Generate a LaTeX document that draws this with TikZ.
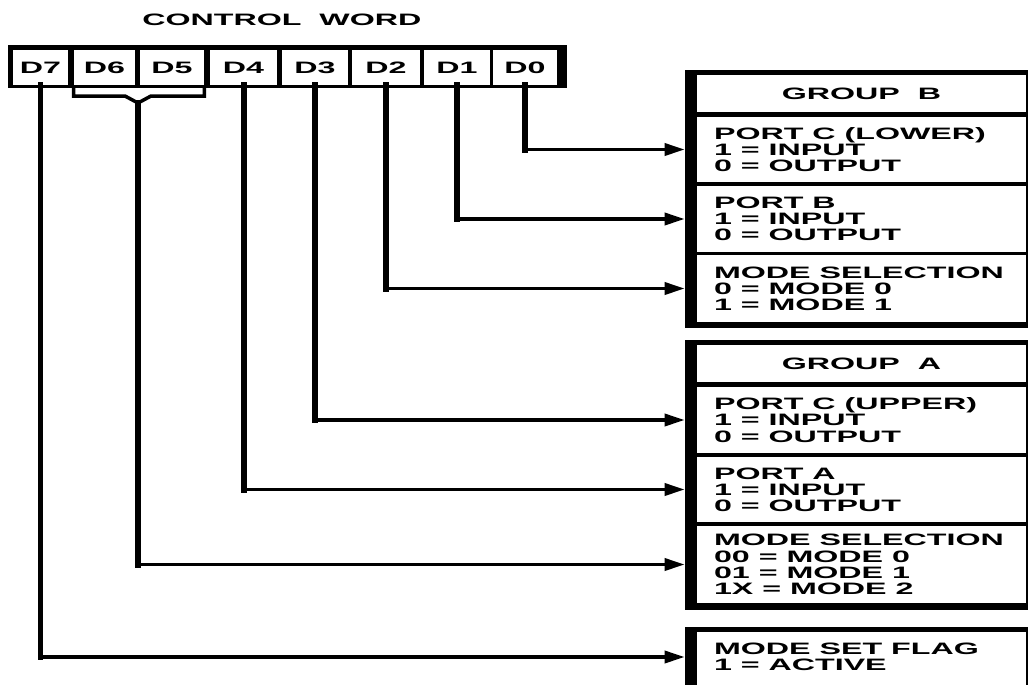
\documentclass[tikz,border=0pt]{standalone}
\usepackage{fontspec}
\newfontfamily\lblfont{Liberation Sans}[FakeStretch=1.95]
\newcommand\lblfnt{\lblfont\bfseries\fontsize{9.4}{9.2}\selectfont\hyphenpenalty=10000}
\usetikzlibrary{arrows.meta}

\begin{document}
\begin{tikzpicture}[
  x=0.02cm, y=-0.02cm,
  cell/.style={fill=white, minimum height=0.7cm, inner sep=0pt, font=\lblfnt},
  sec/.style={fill=white, minimum width=6.58cm, text width=5.9cm, inner xsep=0.34cm,
              inner ysep=0pt, align=left, font=\lblfnt,
              execute at begin node={\spaceskip=0pt\xspaceskip=0pt}},
  hdr/.style={sec, align=center, minimum height=0.74cm},
  vln/.style={line width=0.12cm, line cap=rect},
  hln/.style={line width=0.07cm},
  arr/.style={hln, -{Triangle[length=0.4cm,width=0.24cm]}, shorten >=0.24cm},
]
  \useasboundingbox (0,0) rectangle (1029,684);
  % Control word register
  \node[font=\lblfnt, anchor=west, inner sep=0pt] (title) at (142,19.5) {CONTROL\ \ WORD};
  \fill (8,45) rectangle (567,88);
  \foreach \n/\x/\w in {7/40.5/55, 6/104.5/61, 5/172/64, 4/243.5/67,
                        3/315/66, 2/386/68, 1/457/66, 0/525/64}
    \node[cell, minimum width=\w*0.02cm] (d\n) at (\x,67.5) {D\n};
  % Group B
  \fill (685,70) rectangle (1028,328);
  \node[hdr] (grpb) at (861.5,93.5) {GROUP B};
  \node[sec, minimum height=1.3cm]  (pcl) at (861.5,149.5) {PORT C (LOWER)\\1 = INPUT\\0 = OUTPUT};
  \node[sec, minimum height=1.32cm] (pb)  at (861.5,219)   {PORT B\\1 = INPUT\\0 = OUTPUT};
  \node[sec, minimum height=1.34cm] (msb) at (861.5,288.5) {MODE SELECTION\\0 = MODE 0\\1 = MODE 1};
  % Group A
  \fill (685,340) rectangle (1028,610);
  \node[hdr] (grpa) at (861.5,363.5) {GROUP A};
  \node[sec, minimum height=1.32cm] (pcu) at (861.5,420)   {PORT C (UPPER)\\1 = INPUT\\0 = OUTPUT};
  \node[sec, minimum height=1.3cm]  (pa)  at (861.5,489.5) {PORT A\\1 = INPUT\\0 = OUTPUT};
  \node[sec, minimum height=1.54cm] (msa) at (861.5,564.5) {MODE SELECTION\\00 = MODE 0\\01 = MODE 1\\1X = MODE 2};
  % Mode set flag
  \fill (685,627) rectangle (1028,700);
  \fill[white] (697,632) rectangle (1026,700);
  \node[sec, minimum height=1.0cm]  (msf) at (861.5,657)   {MODE SET FLAG\\1 = ACTIVE};
  % Bit lines
  \foreach \d/\s in {d0/pcl, d1/pb, d2/msb, d3/pcu, d4/pa, d7/msf} {
    \draw[vln] (\d.south) -- (\d.south |- \s.west);
    \draw[arr] (\d.south |- \s.west) -- (\s.west);
  }
  % D6-D5 bracket
  \coordinate (tip) at (138,103);
  \draw[hln] (d6.south west) |- (125,96) -- (tip) -- (151,96) -| (d5.south east);
  \draw[vln] (tip) -- (tip |- msa.west);
  \draw[arr] (tip |- msa.west) -- (msa.west);
\end{tikzpicture}
\end{document}
